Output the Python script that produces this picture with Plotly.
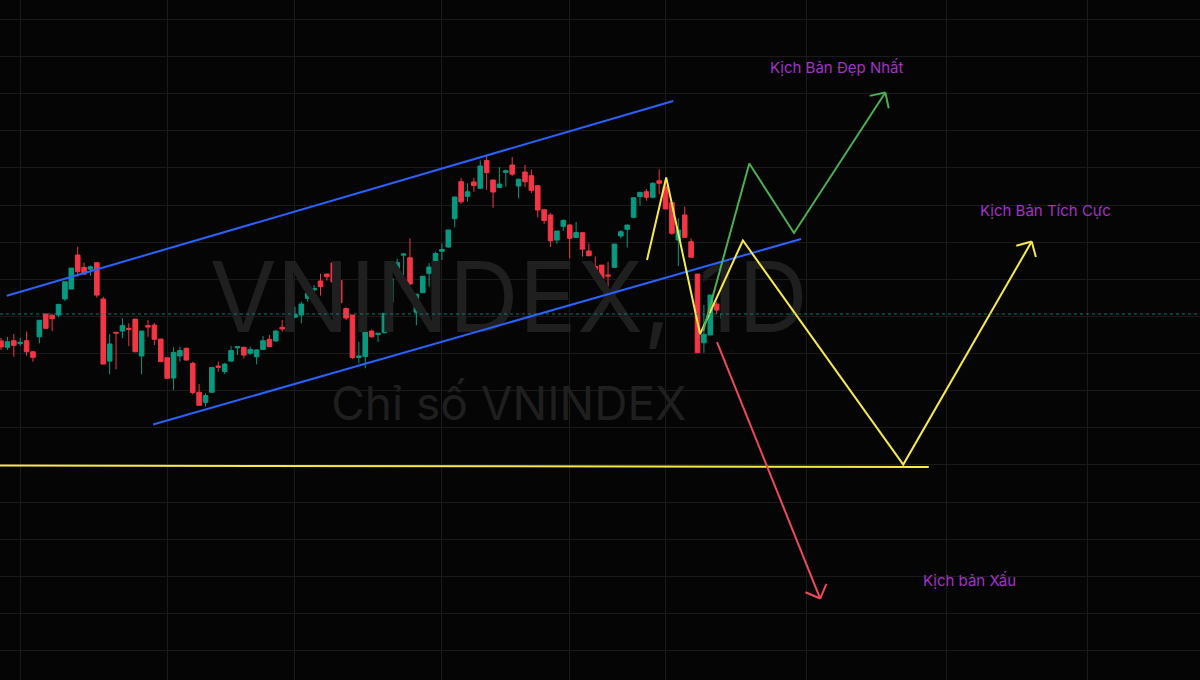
import numpy as np
import plotly.graph_objects as go

# VNINDEX daily candles (bar index = trading day)
opens = [1238.9, 1234.7, 1239.1, 1237.1, 1239.1, 1231.7, 1241.7, 1256.9, 1256.0, 1256.2,
         1266.9, 1273.5, 1296.2, 1288.0, 1286.7, 1291.1, 1266.9, 1225.5, 1244.7, 1245.5,
         1247.3, 1253.5, 1228.9, 1249.1, 1249.5, 1240.2, 1227.7, 1214.2, 1228.9, 1234.0,
         1224.0, 1204.7, 1198.0, 1204.7, 1222.2, 1218.5, 1225.5, 1234.3, 1234.7, 1230.7,
         1228.4, 1233.3, 1240.0, 1238.9, 1248.0, 1246.7, 1254.7, 1256.2, 1267.3, 1272.9,
         1278.9, 1283.5, 1290.9, 1279.2, 1260.5, 1256.2, 1227.9, 1228.5, 1245.5, 1243.3,
         1244.4, 1264.7, 1287.1, 1296.1, 1294.4, 1258.0, 1271.1, 1284.0, 1285.1, 1298.7,
         1301.5, 1320.4, 1345.1, 1335.3, 1344.9, 1340.7, 1359.2, 1346.2, 1341.2, 1351.3,
         1356.2, 1342.2, 1351.5, 1349.1, 1342.4, 1326.4, 1322.9, 1306.2, 1315.3, 1316.2,
         1307.9, 1311.1, 1298.9, 1288.5, 1289.5, 1282.9, 1288.0, 1308.9, 1313.3, 1321.3,
         1335.1, 1338.4, 1334.7, 1345.7, 1341.7, 1331.1, 1306.2, 1322.9, 1305.1, 1283.5,
         1237.7, 1242.9, 1263.5, 1254.0]
highs = [1240.9, 1241.7, 1243.5, 1240.9, 1245.1, 1232.0, 1252.7, 1256.9, 1257.1, 1263.3,
         1278.4, 1287.5, 1301.7, 1291.1, 1289.1, 1291.1, 1268.4, 1243.5, 1244.7, 1254.0,
         1250.7, 1253.5, 1245.5, 1252.9, 1250.9, 1240.2, 1227.7, 1234.7, 1235.1, 1234.7,
         1225.1, 1210.2, 1204.0, 1221.3, 1225.1, 1224.4, 1235.5, 1235.1, 1235.1, 1235.1,
         1233.3, 1242.2, 1242.9, 1246.2, 1252.9, 1252.9, 1261.7, 1265.1, 1275.5, 1276.2,
         1283.7, 1284.0, 1291.5, 1279.5, 1261.2, 1256.2, 1238.4, 1249.5, 1246.5, 1244.0,
         1257.3, 1280.7, 1293.7, 1297.2, 1307.3, 1270.2, 1282.2, 1290.9, 1298.4, 1304.0,
         1312.9, 1334.9, 1347.5, 1344.0, 1347.7, 1359.2, 1362.5, 1346.2, 1354.7, 1353.3,
         1361.5, 1347.0, 1356.2, 1353.1, 1342.9, 1326.5, 1324.2, 1312.2, 1319.9, 1316.9,
         1318.2, 1311.1, 1304.0, 1295.2, 1289.5, 1291.7, 1303.5, 1312.9, 1316.2, 1334.4,
         1338.0, 1340.2, 1344.7, 1353.3, 1345.1, 1331.1, 1320.7, 1328.4, 1307.3, 1283.5,
         1262.9, 1269.5, 1265.1, 1263.5]
lows = [1232.9, 1232.9, 1228.4, 1235.5, 1229.1, 1225.1, 1237.3, 1247.3, 1245.5, 1254.7,
        1265.5, 1273.5, 1281.7, 1282.9, 1282.4, 1267.7, 1223.5, 1216.7, 1220.0, 1240.7,
        1235.5, 1231.7, 1216.7, 1241.7, 1236.2, 1225.1, 1214.0, 1206.2, 1225.1, 1225.7,
        1203.3, 1196.0, 1195.1, 1204.4, 1218.4, 1216.9, 1225.1, 1229.5, 1227.3, 1229.5,
        1223.3, 1232.9, 1234.7, 1238.4, 1245.1, 1245.1, 1254.0, 1250.7, 1265.1, 1268.4,
        1269.2, 1279.2, 1267.3, 1262.5, 1252.9, 1226.9, 1224.0, 1220.7, 1241.1, 1238.2,
        1244.0, 1261.5, 1286.2, 1282.5, 1276.2, 1249.3, 1270.9, 1275.1, 1284.9, 1292.9,
        1301.3, 1314.7, 1330.2, 1331.7, 1338.4, 1340.2, 1339.7, 1327.7, 1341.1, 1341.7,
        1348.9, 1334.0, 1341.5, 1337.5, 1321.2, 1316.9, 1301.7, 1303.7, 1312.2, 1294.0,
        1307.9, 1295.1, 1295.7, 1280.2, 1279.5, 1275.5, 1287.5, 1307.3, 1301.3, 1320.7,
        1329.1, 1332.4, 1334.0, 1336.9, 1326.9, 1309.5, 1288.9, 1308.0, 1294.7, 1231.1,
        1231.1, 1242.9, 1256.9, 1251.3]
closes = [1234.9, 1238.4, 1236.0, 1238.0, 1231.7, 1228.0, 1252.7, 1247.3, 1253.7, 1263.3,
          1278.4, 1287.5, 1285.1, 1283.5, 1288.4, 1269.5, 1223.5, 1236.9, 1244.2, 1249.1,
          1246.7, 1231.7, 1245.5, 1248.2, 1240.0, 1225.1, 1214.0, 1231.3, 1232.5, 1226.2,
          1204.5, 1196.0, 1202.5, 1221.3, 1221.4, 1223.5, 1232.5, 1235.1, 1229.5, 1233.3,
          1232.9, 1239.1, 1235.1, 1245.5, 1246.9, 1250.7, 1256.5, 1263.5, 1270.9, 1273.9,
          1275.1, 1281.7, 1278.2, 1264.4, 1254.2, 1227.9, 1228.9, 1244.9, 1241.7, 1244.0,
          1257.3, 1280.5, 1291.1, 1296.9, 1276.9, 1270.1, 1282.0, 1288.2, 1297.2, 1299.9,
          1312.9, 1334.9, 1331.7, 1338.4, 1342.5, 1355.5, 1351.1, 1338.2, 1343.5, 1352.4,
          1350.1, 1346.7, 1345.1, 1339.3, 1326.2, 1319.2, 1305.7, 1312.2, 1319.3, 1307.3,
          1311.2, 1300.1, 1295.7, 1282.2, 1280.7, 1282.2, 1303.5, 1311.7, 1316.2, 1334.4,
          1338.0, 1334.7, 1344.0, 1344.0, 1326.9, 1310.7, 1312.9, 1308.0, 1294.7, 1231.1,
          1243.3, 1269.5, 1259.5, 1256.9]
bars = list(range(len(closes)))

# month separators on the time axis (bar index)
month_ticks = [3, 26, 46, 69, 89, 104, 126, 148, 170]

# drawings: (bar, price) points
channel_top = [(0.9, 1269.1), (105.2, 1398.9)]
channel_bottom = [(23.8, 1183.2), (125.2, 1306.9)]
support = [(-1.0, 1155.9), (145.2, 1154.9)]
path_positive = [(101.1, 1292.9), (104.1, 1347.9), (109.4, 1243.5), (116.1, 1305.9),
                 (141.2, 1156.5), (161.3, 1305.2)]
path_best = [(109.9, 1245.5), (117.1, 1357.2), (124.1, 1310.9), (138.4, 1404.5)]
path_bad = [(112.05, 1238.2), (128.2, 1067.2)]

labels = ["Kịch Bản Đẹp Nhất", "Kịch Bản Tích Cực", "Kịch bản Xấu"]
label_pos = [(130.8, 1421.5), (163.4, 1326.2), (151.6, 1078.9)]

W, H = 1200, 680
X_RANGE = [-0.16, 187.64]
Y_RANGE = [1012.9, 1466.2]
SX = W / (X_RANGE[1] - X_RANGE[0])
SY = H / (Y_RANGE[1] - Y_RANGE[0])

UP = "#089981"
DOWN = "#f23645"
BLUE = "#2962ff"
YELLOW = "#f7ea48"
GREEN = "#4caf50"
RED = "#f04a5a"
PURPLE = "#a232c8"


def arrow_head(x0, y0, x1, y1, size=16, spread=45):
    # open V arrow head, built in pixel space so it keeps its shape
    ang = np.arctan2((y1 - y0) * SY, (x1 - x0) * SX)
    xs, ys = [], []
    for s in (1, -1):
        a = ang + np.pi + s * np.radians(spread)
        xs += [x1 + size * np.cos(a) / SX, x1, None]
        ys += [y1 + size * np.sin(a) / SY, y1, None]
    return xs, ys


def path_trace(points, color, arrow=False, width=2):
    xs = [p[0] for p in points]
    ys = [p[1] for p in points]
    if arrow:
        hx, hy = arrow_head(xs[-2], ys[-2], xs[-1], ys[-1])
        xs = xs + [None] + hx
        ys = ys + [None] + hy
    return go.Scatter(x=xs, y=ys, mode="lines", hoverinfo="skip", showlegend=False,
                      line=dict(color=color, width=width))


def frac_x(f):
    return X_RANGE[0] + f * (X_RANGE[1] - X_RANGE[0])


def frac_y(f):
    return Y_RANGE[1] - f * (Y_RANGE[1] - Y_RANGE[0])


fig = go.Figure()

# watermark sits behind the candles
fig.add_trace(go.Scatter(
    x=[frac_x(0.424), frac_x(0.424)],
    y=[frac_y(0.452), frac_y(0.601)],
    mode="text",
    text=["VNINDEX, 1D", "Chỉ số VNINDEX"],
    textfont=dict(size=[97, 46], color="#1f1f1f", family="Inter"),
    hoverinfo="skip", showlegend=False,
))

fig.add_trace(go.Candlestick(
    x=bars, open=opens, high=highs, low=lows, close=closes,
    increasing=dict(line=dict(color=UP, width=1), fillcolor=UP),
    decreasing=dict(line=dict(color=DOWN, width=1), fillcolor=DOWN),
    showlegend=False,
))

fig.add_trace(path_trace(channel_top, BLUE))
fig.add_trace(path_trace(channel_bottom, BLUE))
fig.add_trace(path_trace(support, YELLOW))
fig.add_trace(path_trace(path_positive, YELLOW, arrow=True))
fig.add_trace(path_trace(path_best, GREEN, arrow=True))
fig.add_trace(path_trace(path_bad, RED, arrow=True))

# last price line
fig.add_shape(type="line", xref="paper", x0=0, x1=1, y0=closes[-1], y1=closes[-1],
              line=dict(color="rgba(8,153,129,0.8)", width=1, dash="dot"))

for text, (lx, ly) in zip(labels, label_pos):
    fig.add_annotation(x=lx, y=ly, text=text, showarrow=False,
                       font=dict(family="Inter", size=15, color=PURPLE))

fig.update_layout(
    width=W, height=H,
    margin=dict(l=0, r=0, t=0, b=0),
    paper_bgcolor="#050505",
    plot_bgcolor="#050505",
    showlegend=False,
    boxgap=0.1,
    boxgroupgap=0.2,
    xaxis=dict(range=X_RANGE, tickvals=month_ticks, showticklabels=False,
               showgrid=True, gridcolor="#1a1a1a", gridwidth=1, zeroline=False,
               rangeslider=dict(visible=False), fixedrange=True),
    yaxis=dict(range=Y_RANGE, tick0=1280, dtick=24.75, showticklabels=False,
               showgrid=True, gridcolor="#1a1a1a", gridwidth=1, zeroline=False,
               fixedrange=True),
)

fig.write_html("out.html", config={"displayModeBar": False},
               post_script="document.body.style.margin='0';")
